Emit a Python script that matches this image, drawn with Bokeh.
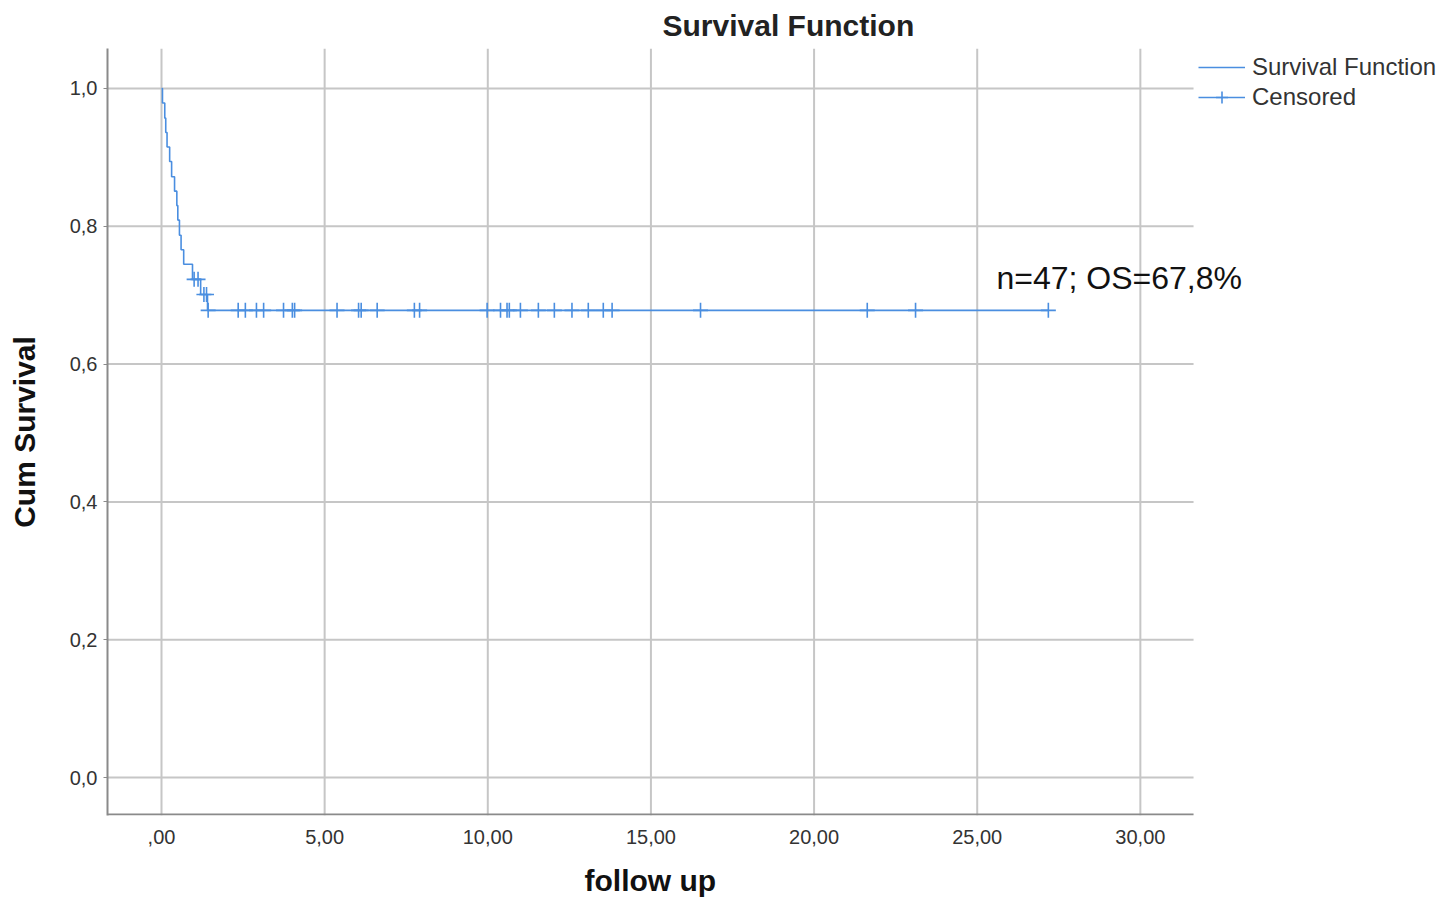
from bokeh.plotting import figure
from bokeh.models import (Range1d, FixedTicker, Legend, LegendItem, Label, Title)
from bokeh.embed import file_html
from bokeh.resources import INLINE

# ---- data ----
step_times = [0.0, 0.03, 0.10, 0.13, 0.17, 0.25, 0.31, 0.40, 0.47, 0.50, 0.55, 0.60, 0.68,
              0.95, 1.20, 1.41, 27.18]
step_surv = [1.0, 0.979, 0.957, 0.936, 0.915, 0.894, 0.872, 0.851, 0.830, 0.809, 0.787,
             0.766, 0.745, 0.723, 0.701, 0.678, 0.678]

censor_times = [1.00, 1.12, 1.30, 1.38,
                1.43, 2.35, 2.57, 2.91, 3.13, 3.74, 4.01, 4.08, 5.38, 6.04, 6.12, 6.61,
                7.75, 7.91, 9.98, 10.39, 10.59, 10.66, 11.00, 11.55, 12.04, 12.58, 13.08,
                13.54, 13.81, 16.52, 21.63, 23.11, 27.18]
censor_surv = [0.723, 0.723, 0.701, 0.701] + [0.678] * 29

x_ticks = [0, 5, 10, 15, 20, 25, 30]
x_tick_labels = [",00", "5,00", "10,00", "15,00", "20,00", "25,00", "30,00"]
y_ticks = [0.0, 0.2, 0.4, 0.6, 0.8, 1.0]
y_tick_labels = ["0,0", "0,2", "0,4", "0,6", "0,8", "1,0"]

title_text = "Survival Function"
x_label = "follow up"
y_label = "Cum Survival"
annotation_text = "n=47; OS=67,8%"
annot_x, annot_y = 25.59, 0.725

# plotting-area extent (data units) of the SPSS chart
X_MIN, X_MAX = -1.655, 31.63
Y_MIN, Y_MAX = -0.055, 1.058

BLUE = "#4a8ee0"
GRID = "#c6c6c6"
AXIS = "#8a8a8a"
FONT = "Liberation Sans"

FRAME_RIGHT_EXT = 39.26  # frame extends under legend / note area

p = figure(width=1447, height=911, output_backend="svg", toolbar_location=None,
           x_range=Range1d(X_MIN, FRAME_RIGHT_EXT), y_range=Range1d(Y_MIN, Y_MAX),
           min_border_left=107, min_border_right=5, min_border_top=47,
           min_border_bottom=96)
p.outline_line_color = None
p.background_fill_color = "white"
p.border_fill_color = "white"

# title
p.title.text = title_text
p.title.text_font = FONT
p.title.text_font_style = "bold"
p.title.text_font_size = "30px"
p.title.text_line_height = 0.9
p.title.align = "left"
p.title.offset = 555
p.title.standoff = 13
p.title.text_color = "#222222"

# axes
for ax in (p.xaxis[0], p.yaxis[0]):
    ax.axis_line_color = AXIS
    ax.axis_line_width = 2
    ax.major_tick_line_color = AXIS
    ax.major_tick_in = 0
    ax.major_tick_out = 4
    ax.minor_tick_line_color = None
    ax.major_label_text_font = FONT
    ax.major_label_text_font_size = "20px"
    ax.major_label_text_color = "#333333"
    ax.axis_label_text_font = FONT
    ax.axis_label_text_font_style = "bold"
    ax.axis_label_text_font_size = "30px"
    ax.axis_label_text_color = "#111111"

p.xaxis.axis_line_color = None
p.xaxis.major_tick_line_color = None
p.xaxis.ticker = FixedTicker(ticks=x_ticks)
p.xaxis.major_label_overrides = {t: l for t, l in zip(x_ticks, x_tick_labels)}
p.yaxis.ticker = FixedTicker(ticks=y_ticks)
p.yaxis.major_label_overrides = {t: l for t, l in zip(y_ticks, y_tick_labels)}
p.yaxis.axis_label = y_label
p.xaxis.major_label_standoff = 10
p.yaxis.major_label_standoff = 6
p.yaxis.axis_label_standoff = 26

# x axis title centred under the SPSS plotting area
xt = Title(text=x_label, align="left", offset=477, text_font=FONT,
           text_font_style="bold", text_font_size="30px", text_color="#111111",
           text_line_height=0.9, standoff=30)
p.add_layout(xt, "below")

p.xgrid.grid_line_color = None
p.ygrid.grid_line_color = None

# grid lines limited to the SPSS plotting area
p.segment(x0=x_ticks, y0=[Y_MIN] * len(x_ticks), x1=x_ticks, y1=[Y_MAX] * len(x_ticks),
          line_color=GRID, line_width=2)
p.segment(x0=[X_MIN] * len(y_ticks), y0=y_ticks, x1=[X_MAX] * len(y_ticks), y1=y_ticks,
          line_color=GRID, line_width=2)
# bottom axis line of the plotting area
p.segment(x0=[X_MIN], y0=[Y_MIN + 0.0015], x1=[X_MAX], y1=[Y_MIN + 0.0015],
          line_color=AXIS, line_width=2)

# survival step and censored marks
step_r = p.step(step_times, step_surv, mode="after", line_color=BLUE, line_width=1.6)
cens_r = p.scatter(censor_times, censor_surv, marker="cross", size=15,
                   line_color=BLUE, line_width=1.6)

legend = Legend(items=[LegendItem(label="Survival Function", renderers=[step_r]),
                       LegendItem(label="Censored", renderers=[step_r, cens_r])],
                location=(1091, 703))
legend.border_line_color = None
legend.background_fill_alpha = 0
legend.label_text_font = FONT
legend.label_text_font_size = "24px"
legend.label_text_color = "#333333"
legend.glyph_width = 47
legend.glyph_height = 30
legend.label_height = 30
legend.spacing = 0
legend.padding = 0
legend.margin = 0
legend.label_standoff = 7
p.add_layout(legend, "center")

p.add_layout(Label(x=annot_x, y=annot_y, text=annotation_text, text_font=FONT,
                   text_font_size="32px", text_color="#111111",
                   text_baseline="middle", text_align="left"))

open("out.html", "w").write(file_html(p, INLINE))
